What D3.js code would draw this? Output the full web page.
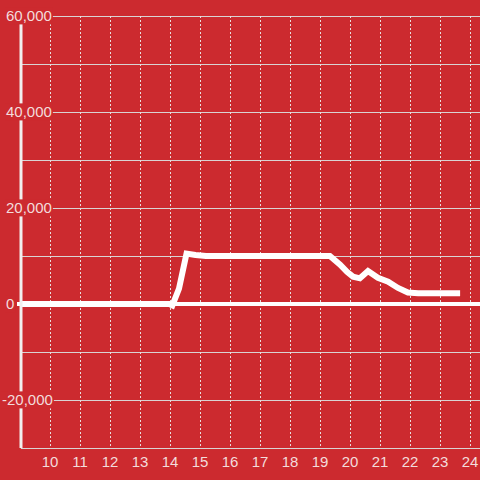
<!DOCTYPE html>
<html>
<head>
<meta charset="utf-8">
<script src="https://cdn.jsdelivr.net/npm/d3@7"></script>
<style>
  html, body { margin: 0; padding: 0; background: #cc2a2f; }
  svg { display: block; }
  text { font-family: "Liberation Sans", Arial, sans-serif; font-size: 15px; fill: #f3dcdc; }
</style>
</head>
<body>
<div class="chart"></div>
<script>
// data
const hours = [9.03, 13.98, 14.08, 14.3, 14.55, 14.85, 15.2, 16, 17, 18, 19, 19.33,
  19.67, 19.9, 20.1, 20.33, 20.6, 20.93, 21.27, 21.6, 21.93, 22.27, 23, 23.67];
const values = [0, 0, -300, 3200, 10500, 10200, 10000, 10000, 10000, 10000, 10000, 10000,
  8200, 6700, 5700, 5350, 6850, 5450, 4650, 3350, 2400, 2250, 2230, 2230];
const xTicks = [10, 11, 12, 13, 14, 15, 16, 17, 18, 19, 20, 21, 22, 23, 24];
const yGrid = [-30000, -20000, -10000, 0, 10000, 20000, 30000, 40000, 50000, 60000];
const yLabels = [-20000, 0, 20000, 40000, 60000];

const svgWidth = 480;
const svgHeight = 480;

const svg = d3.select(".chart")
  .append("svg")
  .attr("width", svgWidth)
  .attr("height", svgHeight);

svg.append("rect")
  .attr("width", svgWidth)
  .attr("height", svgHeight)
  .attr("fill", "#cc2a2f");

// scales
const xScale = d3.scaleLinear()
  .domain([9, 24.333])
  .range([20, 480]);

const yScale = d3.scaleLinear()
  .domain([-30000, 60000])
  .range([448, 16]);

// horizontal grid
svg.append("g")
  .selectAll("line")
  .data(yGrid.filter(d => d !== 0))
  .enter()
  .append("line")
  .attr("x1", xScale(9.03))
  .attr("x2", 480)
  .attr("y1", d => Math.round(yScale(d)) + 0.5)
  .attr("y2", d => Math.round(yScale(d)) + 0.5)
  .attr("stroke", "#d9d3d3")
  .attr("stroke-width", 1);

// vertical dashed grid
svg.append("g")
  .selectAll("line")
  .data(xTicks)
  .enter()
  .append("line")
  .attr("x1", d => Math.round(xScale(d)) + 0.5)
  .attr("x2", d => Math.round(xScale(d)) + 0.5)
  .attr("y1", yScale(60000))
  .attr("y2", yScale(-30000))
  .attr("stroke", "#e8dede")
  .attr("stroke-width", 1)
  .attr("stroke-dasharray", "2,2");

// zero line
svg.append("line")
  .attr("x1", 17)
  .attr("x2", 480)
  .attr("y1", yScale(0))
  .attr("y2", yScale(0))
  .attr("stroke", "#ffffff")
  .attr("stroke-width", 4);

// data line
const line = d3.line()
  .x((d, i) => xScale(hours[i]))
  .y(d => yScale(d));

svg.append("path")
  .attr("d", line(values))
  .attr("fill", "none")
  .attr("stroke", "#ffffff")
  .attr("stroke-width", 6);

// y axis line
svg.append("line")
  .attr("x1", 21)
  .attr("x2", 21)
  .attr("y1", yScale(60000))
  .attr("y2", yScale(-30000))
  .attr("stroke", "#f2eeee")
  .attr("stroke-width", 3);

// y labels with background boxes
const yLab = svg.append("g")
  .selectAll("g")
  .data(yLabels)
  .enter()
  .append("g");

yLab.append("text")
  .attr("x", d => d < 0 ? 2 : 6)
  .attr("y", d => yScale(d))
  .attr("dy", "0.36em")
  .text(d => d3.format(",")(d).replace("−", "-"));

yLab.each(function() {
  const g = d3.select(this);
  const bb = g.select("text").node().getBBox();
  g.insert("rect", "text")
    .attr("x", bb.x - 1)
    .attr("y", bb.y)
    .attr("width", bb.width + 2)
    .attr("height", bb.height)
    .attr("fill", "#cc2a2f");
});

// x labels
svg.append("g")
  .selectAll("text")
  .data(xTicks)
  .enter()
  .append("text")
  .attr("x", d => xScale(d))
  .attr("y", 467)
  .attr("text-anchor", "middle")
  .text(d => d);
</script>
</body>
</html>
